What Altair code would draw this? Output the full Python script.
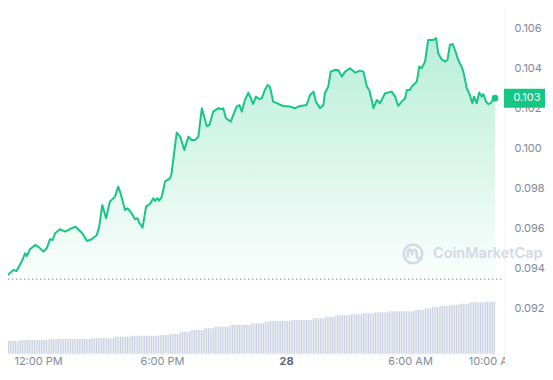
import altair as alt
import pandas as pd

# Time axis: minutes since the start of the 24h window (10:08 AM on the 27th)
WINDOW_MIN = 1466

price_minutes = [0, 19, 39, 48, 63, 73, 78, 87, 102, 111, 126, 136, 145, 153, 160, 174, 189, 203, 218, 237,
                 253, 266, 281, 288, 297, 308, 319, 334, 343, 350, 363, 370, 382, 392, 399, 404, 414, 424, 435, 445,
                 450, 457, 462, 469, 474, 479, 494, 498, 513, 523, 535, 547, 556, 566, 576, 586, 600, 608, 619, 634,
                 644, 648, 656, 670, 677, 687, 695, 702, 711, 721, 728, 735, 743, 753, 760, 769, 777, 784, 793, 803,
                 822, 842, 856, 871, 890, 900, 910, 917, 929, 939, 943, 953, 960, 972, 982, 992, 1002, 1016, 1031, 1045,
                 1055, 1065, 1072, 1079, 1084, 1094, 1103, 1118, 1137, 1147, 1156, 1166, 1176, 1181, 1190, 1195, 1205, 1210, 1217, 1224,
                 1234, 1243, 1258, 1266, 1272, 1282, 1292, 1299, 1306, 1314, 1321, 1330, 1340, 1345, 1355, 1364, 1371, 1376, 1384, 1391,
                 1398, 1403, 1411, 1418, 1424, 1430, 1437]
prices = [0.09349, 0.09360, 0.09390, 0.09385, 0.09432, 0.09474, 0.09460, 0.09494, 0.09515, 0.09507,
          0.09482, 0.09499, 0.09544, 0.09540, 0.09574, 0.09594, 0.09582, 0.09594, 0.09607, 0.09577,
          0.09535, 0.09544, 0.09565, 0.09607, 0.09715, 0.09649, 0.09732, 0.09757, 0.09807, 0.09774,
          0.09690, 0.09699, 0.09674, 0.09644, 0.09649, 0.09627, 0.09602, 0.09707, 0.09720, 0.09749,
          0.09735, 0.09749, 0.09737, 0.09754, 0.09790, 0.09832, 0.09849, 0.09874, 0.10077, 0.10057,
          0.09990, 0.10057, 0.10040, 0.10040, 0.10057, 0.10199, 0.10110, 0.10115, 0.10182, 0.10199,
          0.10194, 0.10199, 0.10149, 0.10132, 0.10165, 0.10207, 0.10215, 0.10182, 0.10240, 0.10277,
          0.10249, 0.10220, 0.10257, 0.10244, 0.10249, 0.10290, 0.10315, 0.10304, 0.10232, 0.10224,
          0.10210, 0.10207, 0.10199, 0.10210, 0.10215, 0.10265, 0.10282, 0.10232, 0.10199, 0.10215,
          0.10274, 0.10307, 0.10382, 0.10390, 0.10390, 0.10357, 0.10382, 0.10399, 0.10377, 0.10387,
          0.10382, 0.10307, 0.10290, 0.10240, 0.10199, 0.10240, 0.10224, 0.10274, 0.10282, 0.10257,
          0.10210, 0.10232, 0.10249, 0.10290, 0.10290, 0.10307, 0.10324, 0.10332, 0.10407, 0.10399,
          0.10432, 0.10540, 0.10540, 0.10549, 0.10474, 0.10444, 0.10432, 0.10440, 0.10515, 0.10520,
          0.10490, 0.10440, 0.10407, 0.10382, 0.10299, 0.10265, 0.10224, 0.10257, 0.10224, 0.10277,
          0.10257, 0.10270, 0.10232, 0.10219, 0.10224, 0.10240, 0.10249]
open_price = 0.09344
last_price_label = "0.103"

# Volume (in $M): level changes at these minutes, one bar every 5 minutes
vol_step_minutes = [0, 58, 145, 261, 334, 377, 464, 494, 523, 552, 595, 624, 668, 726, 769, 784, 842,
                    909, 943, 975, 1016, 1051, 1089, 1126, 1205, 1234, 1254, 1277, 1306, 1335, 1364, 1408, 1437]
vol_levels = [1.30, 1.40, 1.50, 1.57, 1.73, 1.83, 1.90, 2.00, 2.23, 2.40, 2.57, 2.73, 2.90, 3.07, 3.23, 3.30, 3.40,
              3.57, 3.73, 3.87, 3.97, 4.07, 4.17, 4.27, 4.40, 4.57, 4.73, 4.83, 4.90, 5.03, 5.17, 5.23, 5.30]
bar_every = 5

tick_minutes = [112, 472, 832, 1192, 1432]
tick_labels = ["12:00 PM", "6:00 PM", "28", "6:00 AM", "10:00 AM"]
tick_bold = [False, False, True, False, False]

price_ticks = [0.092, 0.094, 0.096, 0.098, 0.100, 0.102, 0.104, 0.106]

GREEN = "#16c784"
GRID = "#eff2f5"
LABEL = "#808a9d"
FONT = "Inter"
FS = 11

PLOT_W = 505
PLOT_H = 366
price_top = 0.094 + 268 / 20000
price_bottom = price_top - PLOT_H / 20000

price_df = pd.DataFrame({"minute": price_minutes, "price": prices})
price_df["base"] = open_price
last_df = price_df.tail(1).copy()
last_df["label"] = last_price_label

bar_minutes = list(range(0, price_minutes[-1] + 1, bar_every))
bar_vol = []
for t in bar_minutes:
    lvl = vol_levels[0]
    for s, v in zip(vol_step_minutes, vol_levels):
        if s <= t:
            lvl = v
    bar_vol.append(lvl)
vol_df = pd.DataFrame({"minute": bar_minutes, "vol": bar_vol})

ticks_df = pd.DataFrame({"minute": tick_minutes, "label": tick_labels, "bold": tick_bold})
one = pd.DataFrame({"a": [0]})

xs = alt.X("minute:Q", scale=alt.Scale(domain=[0, WINDOW_MIN], nice=False, zero=False), axis=None)


def py(axis=None):
    return alt.Y("price:Q", scale=alt.Scale(domain=[price_bottom, price_top], nice=False, zero=False), axis=axis)


yaxis = alt.Axis(values=price_ticks, format=".3f", orient="right", domain=False, ticks=False,
                 labelPadding=9, labelFont=FONT, labelFontSize=FS, labelColor=LABEL,
                 gridColor=GRID, gridWidth=1, title=None)

gradient = alt.Gradient(
    gradient="linear",
    stops=[alt.GradientStop(color="rgba(22,199,132,0.30)", offset=0),
           alt.GradientStop(color="rgba(22,199,132,0.02)", offset=1)],
    x1=1, x2=1, y1=0, y2=1)

vol = alt.Chart(vol_df).mark_rule(strokeWidth=1.1, color="#c9cfe0").encode(
    x=xs, y=alt.Y("vol:Q", scale=alt.Scale(domain=[0, 35.4], range=[354, 0]), axis=None),
    y2=alt.value(354))

area = alt.Chart(price_df).mark_area(fill=gradient, line=False).encode(
    x=xs, y=py(yaxis), y2=alt.Y2("base:Q"))

open_rule = alt.Chart(pd.DataFrame({"price": [open_price]})).mark_rule(
    strokeDash=[1.4, 2.6], color="#9aa1ae", strokeWidth=1.2).encode(
    y=py(), x=alt.value(0), x2=alt.value(502))

line = alt.Chart(price_df).mark_line(color=GREEN, strokeWidth=2, strokeJoin="round").encode(x=xs, y=py())

dot = alt.Chart(last_df).mark_point(filled=True, size=45, color=GREEN, opacity=1).encode(x=xs, y=py())

badge = alt.Chart(last_df).mark_tick(orient="horizontal", size=42, thickness=19, color=GREEN, opacity=1).encode(
    x=alt.value(525), y=py())
badge_text = alt.Chart(last_df).mark_text(color="white", font=FONT, fontSize=FS, align="center",
                                          baseline="middle").encode(
    x=alt.value(527), y=py(), text="label:N")

wm_color = "#d3d9e5"
wm_ring = alt.Chart(one).mark_point(shape="circle", filled=False, size=346, stroke=wm_color,
                                    strokeWidth=2.6, opacity=1).encode(x=alt.value(413), y=alt.value(254))
wm_m = alt.Chart(one).mark_point(
    shape="M-0.5,0.35 L-0.5,-0.05 C-0.5,-0.55 -0.1,-0.55 -0.1,-0.05 L-0.1,0.15 C-0.1,-0.55 0.35,-0.55 0.35,-0.05 L0.35,0.2 C0.35,0.45 0.6,0.45 0.75,0.3",
    filled=False, size=441, stroke=wm_color, strokeWidth=2.4, opacity=1).encode(x=alt.value(413), y=alt.value(254))
wm_text = alt.Chart(one).mark_text(text="CoinMarketCap", font=FONT, fontSize=14.5, fontWeight=600,
                                   color=wm_color, align="left", baseline="middle").encode(
    x=alt.value(433), y=alt.value(254))

baseline = alt.Chart(one).mark_rule(color=GRID, strokeWidth=1).encode(
    x=alt.value(0), x2=alt.value(505), y=alt.value(354))
right_line = alt.Chart(one).mark_rule(color=GRID, strokeWidth=1).encode(
    x=alt.value(505), y=alt.value(0), y2=alt.value(354))

xticks = alt.Chart(ticks_df).mark_rule(color="#e3e7ed", strokeWidth=1).encode(
    x=xs, y=alt.value(354), y2=alt.value(356))
xlabels = alt.Chart(ticks_df).transform_filter("!datum.bold").mark_text(
    font=FONT, fontSize=FS, color=LABEL, align="center", baseline="middle", clip=True).encode(
    x=xs, y=alt.value(361.5), text="label:N")
xlabels_bold = alt.Chart(ticks_df).transform_filter("datum.bold").mark_text(
    font=FONT, fontSize=FS, fontWeight="bold", color="#58667e", align="center", baseline="middle",
    clip=True).encode(x=xs, y=alt.value(361.5), text="label:N")

chart = alt.layer(
    vol, area, open_rule, baseline, right_line, xticks, line, dot, wm_ring, wm_m, wm_text,
    badge, badge_text, xlabels, xlabels_bold
).resolve_scale(y="independent").properties(
    width=PLOT_W, height=PLOT_H,
    padding={"left": -8, "top": -8, "right": 40, "bottom": 0},
    autosize=alt.AutoSizeParams(type="none"),
    background="white",
).configure_view(stroke=None)

chart.save("out.html", embed_options={"renderer": "svg", "actions": False})
